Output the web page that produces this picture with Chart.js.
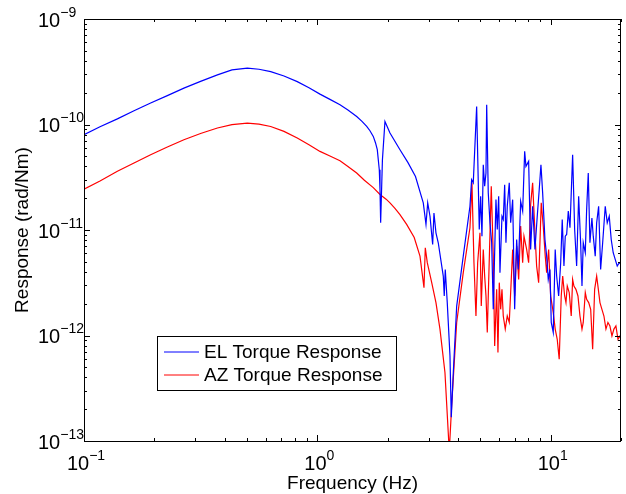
<!DOCTYPE html>
<html>
<head>
<meta charset="utf-8">
<script src="https://cdn.jsdelivr.net/npm/chart.js@4"></script>
<style>
html, body { margin: 0; padding: 0; background: #fff; }
#wrap { width: 626px; height: 494px; }
</style>
</head>
<body>
<div id="wrap"><canvas id="chart" width="626" height="494"></canvas></div>
<script>
// EL torque response (blue)
const elFreq = [
    0.1, 0.1171, 0.139, 0.1638, 0.193, 0.2276, 0.268, 0.3158, 0.373, 0.4305,
    0.501, 0.5619, 0.631, 0.7194, 0.820, 0.9204, 1.026, 1.132, 1.25, 1.352,
    1.474, 1.553, 1.627, 1.680, 1.736, 1.774, 1.806, 1.842, 1.855, 1.867, 1.90, 1.948,
    2.047, 2.259, 2.445, 2.633, 2.843, 2.920, 2.970, 3.038, 3.119, 3.159, 3.222,
    3.296, 3.463, 3.497, 3.532, 3.602, 3.700, 3.748, 3.823, 3.953, 4.218,
    4.506, 4.581, 4.656, 4.814, 4.940, 5.008, 5.073, 5.139, 5.210, 5.278,
    5.315, 5.398, 5.490, 5.583, 5.672, 5.824, 5.900, 5.982, 6.059, 6.180,
    6.260, 6.347, 6.428, 6.511, 6.641, 6.734, 6.868, 7.004, 7.144, 7.258,
    7.432, 7.580, 7.731, 7.829, 8.040, 8.200, 8.363, 8.556, 8.753, 8.926,
    9.078, 9.232, 9.444, 9.603, 9.757, 9.922, 10.05, 10.25, 10.45, 10.60,
    10.81, 11.03, 11.20, 11.39, 11.54, 11.70, 11.89, 12.09, 12.41, 12.66,
    12.91, 13.17, 13.43, 13.61, 13.78, 14.06, 14.25, 14.48, 14.72, 15.01,
    15.21, 15.51, 15.73, 16.04, 16.36, 16.69, 17.12, 17.46, 17.81, 18.16,
    18.52, 18.89, 19.27, 19.66, 20.0
];
const elResp = [
    8.00e-11, 9.52e-11, 1.13e-10, 1.35e-10, 1.60e-10, 1.88e-10, 2.21e-10, 2.56e-10, 2.95e-10, 3.29e-10,
    3.42e-10, 3.34e-10, 3.17e-10, 2.88e-10, 2.55e-10, 2.23e-10, 1.94e-10, 1.73e-10, 1.54e-10, 1.37e-10,
    1.19e-10, 1.07e-10, 9.58e-11, 8.73e-11, 7.71e-11, 6.72e-11, 5.77e-11, 3.73e-11, 2.42e-11, 1.17e-11, 4.64e-11, 1.07e-10,
    8.30e-11, 5.77e-11, 4.35e-11, 3.21e-11, 1.81e-11, 1.13e-11, 1.81e-11, 1.35e-11, 7.29e-12, 1.45e-11, 9.41e-12,
    7.57e-12, 3.66e-12, 2.37e-12, 4.23e-12, 2.05e-12, 6.41e-13, 1.68e-13, 4.46e-13, 1.90e-12, 5.65e-12,
    1.68e-11, 3.00e-11, 2.80e-11, 1.48e-10, 1.01e-11, 2.09e-11, 8.74e-12, 4.16e-11, 2.60e-11, 3.47e-11,
    1.54e-10, 2.25e-11, 1.17e-11, 7.57e-12, 1.77e-12, 1.94e-11, 1.01e-11, 2.09e-11, 3.94e-12, 1.35e-11,
    1.26e-11, 2.69e-11, 7.57e-12, 1.68e-11, 2.80e-11, 1.17e-11, 1.94e-11, 1.77e-12, 8.13e-12, 4.23e-12,
    1.87e-11, 1.51e-11, 5.56e-11, 4.01e-11, 4.47e-11, 6.54e-12, 1.68e-11, 6.54e-12, 1.35e-11, 2.42e-11,
    4.16e-11, 2.25e-11, 8.13e-12, 5.65e-12, 3.40e-12, 4.23e-12, 1.33e-12, 1.07e-12, 6.54e-12, 3.66e-12,
    2.37e-12, 4.90e-12, 1.26e-11, 4.55e-12, 8.74e-12, 9.07e-12, 1.51e-11, 1.05e-11, 5.17e-11, 1.01e-11,
    4.55e-12, 2.09e-11, 7.57e-12, 2.94e-12, 7.57e-12, 6.09e-12, 1.56e-11, 3.47e-11, 7.57e-12, 1.30e-11,
    8.74e-12, 5.65e-12, 1.17e-11, 1.68e-11, 4.23e-12, 7.57e-12, 1.68e-11, 1.17e-11, 1.35e-11, 8.13e-12,
    6.09e-12, 5.26e-12, 4.55e-12, 4.90e-12, 4.72e-12
];

// AZ torque response (red)
const azFreq = [
    0.1, 0.1171, 0.139, 0.1638, 0.193, 0.2276, 0.268, 0.3158, 0.373, 0.4305,
    0.501, 0.5619, 0.631, 0.7194, 0.820, 0.9204, 1.026, 1.132, 1.25, 1.352,
    1.474, 1.59, 1.736, 1.855, 1.97, 2.047, 2.15, 2.259, 2.413, 2.60,
    2.752, 2.863, 2.900, 2.958, 3.090, 3.222, 3.352,
    3.521, 3.674, 3.762, 3.953, 4.218, 4.506, 4.596, 4.688, 4.781, 4.862,
    4.974, 5.038, 5.139, 5.210, 5.278, 5.346, 5.561, 5.672, 5.751, 5.865,
    5.940, 6.018, 6.101, 6.180, 6.260, 6.384, 6.511, 6.641, 6.868, 7.004,
    7.144, 7.287, 7.432, 7.580, 7.678, 7.884, 8.040, 8.200, 8.363, 8.530,
    8.701, 8.874, 9.104, 9.287, 9.472, 9.603, 9.795, 9.991, 10.25, 10.45,
    10.66, 10.87, 11.09, 11.25, 11.47, 11.62, 11.77, 12.00, 12.24, 12.41,
    12.57, 12.82, 13.08, 13.34, 13.61, 13.78, 14.06, 14.25, 14.54, 14.83,
    15.12, 15.42, 15.73, 15.93, 16.25, 16.57, 16.90, 17.24, 17.58, 17.93,
    18.29, 18.65, 19.02, 19.41, 19.80, 20.0
];
const azResp = [
    2.44e-11, 2.91e-11, 3.60e-11, 4.32e-11, 5.17e-11, 6.12e-11, 7.17e-11, 8.21e-11, 9.26e-11, 9.97e-11,
    1.03e-10, 1.01e-10, 9.58e-11, 8.61e-11, 7.45e-11, 6.43e-11, 5.56e-11, 5.03e-11, 4.54e-11, 4.00e-11,
    3.47e-11, 2.96e-11, 2.52e-11, 2.17e-11, 1.96e-11, 1.81e-11, 1.60e-11, 1.40e-11, 1.13e-11, 8.49e-12,
    5.65e-12, 2.84e-12, 6.79e-12, 4.90e-12, 3.17e-12, 2.05e-12, 1.15e-12,
    4.46e-13, 8.0e-14, 2.16e-13, 1.33e-12, 3.94e-12, 1.05e-11, 2.80e-11, 4.90e-12, 1.53e-12, 4.90e-12,
    9.41e-12, 1.90e-12, 6.54e-12, 3.66e-12, 2.37e-12, 1.07e-12, 2.60e-11, 5.65e-12, 7.96e-13, 2.74e-12,
    6.90e-13, 3.17e-12, 1.77e-12, 2.74e-12, 1.53e-12, 1.15e-12, 1.53e-12, 1.33e-12, 6.54e-12, 2.37e-12,
    7.03e-12, 3.40e-12, 1.09e-11, 4.90e-12, 8.74e-12, 6.54e-12, 4.90e-12, 1.74e-11, 2.80e-11, 1.09e-11,
    4.55e-12, 3.17e-12, 1.81e-11, 1.09e-11, 5.65e-12, 3.94e-12, 6.54e-12, 2.37e-12, 1.65e-12, 1.15e-12,
    9.21e-13, 5.96e-13, 2.37e-12, 3.66e-12, 2.37e-12, 2.05e-12, 2.94e-12, 2.55e-12, 1.53e-12, 3.40e-12,
    2.94e-12, 2.74e-12, 2.37e-12, 1.53e-12, 1.15e-12, 1.33e-12, 2.55e-12, 2.20e-12, 2.05e-12, 1.77e-12,
    7.41e-13, 2.74e-12, 3.66e-12, 2.94e-12, 2.05e-12, 1.77e-12, 1.53e-12, 1.15e-12, 1.33e-12, 1.23e-12,
    9.90e-13, 1.15e-12, 1.23e-12, 9.21e-13, 9.90e-13, 9.21e-13
];

// axis decades (tick labels are 10^k)
const xDecades = [-1, 0, 1];
const yDecades = [-13, -12, -11, -10, -9];

const seriesLabels = ['EL Torque Response', 'AZ Torque Response'];
const seriesColors = ['#0000ff', '#ff0000'];

const FONT = '"Liberation Sans", Arial, Helvetica, sans-serif';

function toPoints(freq, resp) {
    return freq.map((f, i) => ({ x: f, y: resp[i] }));
}

// draws "10" with a raised exponent
function drawPower(ctx, exp, x, baseY, align) {
    const expText = exp < 0 ? '\u2212' + Math.abs(exp) : String(exp);
    ctx.font = '20px ' + FONT;
    const wb = ctx.measureText('10').width;
    ctx.font = '14px ' + FONT;
    const we = ctx.measureText(expText).width;
    let left = x;
    if (align === 'center') left = x - (wb + we) / 2;
    ctx.textAlign = 'left';
    ctx.textBaseline = 'alphabetic';
    ctx.font = '20px ' + FONT;
    ctx.fillText('10', left, baseY);
    ctx.font = '14px ' + FONT;
    ctx.fillText(expText, left + wb, baseY - 10);
}

const matlabAxes = {
    id: 'matlabAxes',
    afterDraw(chart) {
        const ctx = chart.ctx;
        const a = chart.chartArea;
        const xs = chart.scales.x;
        const ys = chart.scales.y;
        ctx.save();
        ctx.strokeStyle = '#000';
        ctx.fillStyle = '#000';
        ctx.lineWidth = 1;

        // inward ticks on all four sides
        ctx.beginPath();
        for (let k = -2; k <= 1; k++) {
            for (let m = 1; m <= 9; m++) {
                const v = m * Math.pow(10, k);
                if (v < xs.min - 1e-12 || v > xs.max + 1e-12) continue;
                const px = Math.round(xs.getPixelForValue(v)) + 0.5;
                const len = m === 1 ? 6 : 3;
                ctx.moveTo(px, a.bottom); ctx.lineTo(px, a.bottom - len);
                ctx.moveTo(px, a.top); ctx.lineTo(px, a.top + len);
            }
        }
        for (let k = -14; k <= -9; k++) {
            for (let m = 1; m <= 9; m++) {
                const v = m * Math.pow(10, k);
                if (v < ys.min * 0.999 || v > ys.max * 1.001) continue;
                const py = Math.round(ys.getPixelForValue(v)) + 0.5;
                const len = m === 1 ? 6 : 3;
                ctx.moveTo(a.left, py); ctx.lineTo(a.left + len, py);
                ctx.moveTo(a.right, py); ctx.lineTo(a.right - len, py);
            }
        }
        ctx.stroke();

        // box
        ctx.strokeRect(a.left + 0.5, a.top + 0.5, a.right - a.left - 1, a.bottom - a.top);

        // tick labels
        xDecades.forEach(k => {
            const px = xs.getPixelForValue(Math.pow(10, k));
            drawPower(ctx, k, px + 2, 470, 'center');
        });
        yDecades.forEach(k => {
            const py = ys.getPixelForValue(Math.pow(10, k));
            drawPower(ctx, k, 38, py + 7.5, 'left');
        });

        // axis titles
        ctx.font = '19px ' + FONT;
        ctx.textAlign = 'center';
        ctx.textBaseline = 'alphabetic';
        ctx.fillText('Frequency (Hz)', (a.left + a.right) / 2, 489);
        ctx.save();
        ctx.translate(28, (a.top + a.bottom) / 2);
        ctx.rotate(-Math.PI / 2);
        ctx.fillText('Response (rad/Nm)', 0, 0);
        ctx.restore();

        // legend box
        const lx = 157, ly = 336, lw = 240, lh = 55;
        ctx.fillStyle = '#fff';
        ctx.fillRect(lx, ly, lw, lh);
        ctx.strokeStyle = '#000';
        ctx.strokeRect(lx + 0.5, ly + 0.5, lw - 1, lh - 1);
        ctx.font = '19px ' + FONT;
        ctx.textAlign = 'left';
        ctx.textBaseline = 'middle';
        chart.data.datasets.forEach((ds, i) => {
            const rowY = ly + 16 + i * 23;
            ctx.strokeStyle = ds.borderColor;
            ctx.beginPath();
            ctx.moveTo(lx + 7, rowY);
            ctx.lineTo(lx + 42, rowY);
            ctx.stroke();
            ctx.fillStyle = '#000';
            ctx.fillText(ds.label, lx + 47, rowY + 1);
        });
        ctx.restore();
    }
};

new Chart(document.getElementById('chart'), {
    type: 'line',
    data: {
        datasets: [
            {
                label: seriesLabels[0],
                data: toPoints(elFreq, elResp),
                borderColor: seriesColors[0],
                borderWidth: 1.2,
                pointRadius: 0,
                tension: 0,
                fill: false,
                clip: 0
            },
            {
                label: seriesLabels[1],
                data: toPoints(azFreq, azResp),
                borderColor: seriesColors[1],
                borderWidth: 1.2,
                pointRadius: 0,
                tension: 0,
                fill: false,
                clip: 0
            }
        ]
    },
    options: {
        responsive: false,
        animation: false,
        devicePixelRatio: 1,
        layout: { padding: { left: 84, right: 5, top: 19, bottom: 53 } },
        scales: {
            x: { type: 'logarithmic', min: 0.1, max: 20, display: false },
            y: { type: 'logarithmic', min: 1e-13, max: 1e-9, display: false }
        },
        plugins: {
            legend: { display: false },
            tooltip: { enabled: false }
        }
    },
    plugins: [matlabAxes]
});
</script>
</body>
</html>
